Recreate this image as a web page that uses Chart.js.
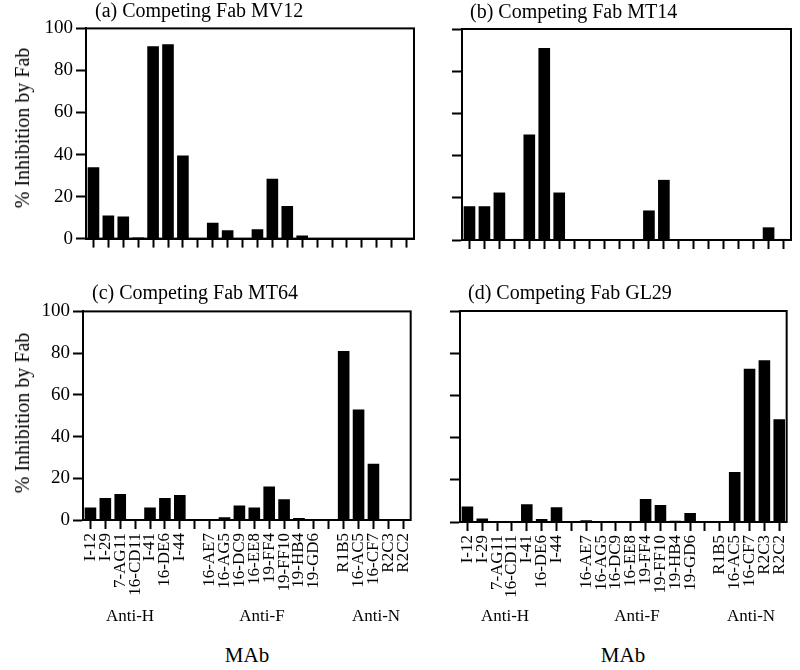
<!DOCTYPE html>
<html lang="en">
<head>
<meta charset="UTF-8">
<title>Competing Fab inhibition</title>
<script src="https://cdn.jsdelivr.net/npm/chart.js"></script>
<style>
  body {
    margin: 0;
    width: 800px;
    height: 670px;
    position: relative;
    overflow: hidden;
    background: #fff;
    color: #000;
    font-family: "Liberation Serif", "Times New Roman", serif;
  }
  .box { position: absolute; }
  .txt { position: absolute; white-space: nowrap; line-height: 1; font-family: "Liberation Serif", "Times New Roman", serif; }
  .title { font-size: 20px; }
  .ytitle { font-size: 20px; transform: translate(-50%, -50%) rotate(-90deg); }
  .group { font-size: 17px; transform: translateX(-50%); }
  .mab { font-size: 21px; transform: translateX(-50%); }
</style>
</head>
<body>
<script>
// monoclonal antibodies on the x axis ('' = empty slot between groups)
const mabLabels = ['I-12', 'I-29', '7-AG11', '16-CD11', 'I-41', '16-DE6', 'I-44', '',
  '16-AE7', '16-AG5', '16-DC9', '16-EE8', '19-FF4', '19-FF10', '19-HB4', '19-GD6', '',
  'R1B5', '16-AC5', '16-CF7', 'R2C3', 'R2C2'];
const groupNames = ['Anti-H', 'Anti-F', 'Anti-N'];

// % inhibition by each competing Fab
const fabMV12 = [34, 11, 10.5, 0.5, 91.5, 92.5, 39.5, 0, 7.5, 4, 0, 4.5, 28.5, 15.5, 1.5, 0, 0, 0, 0, 0, 0, 0];
const fabMT14 = [16, 16, 22.5, 0.5, 50, 91, 22.5, 0, 0, 0, 0, 0, 14, 28.5, 0.3, 0, 0, 0, 0, 0, 6, 0.5];
const fabMT64 = [6, 10.5, 12.5, 0, 6, 10.5, 12, 0, 0, 1.3, 7, 6, 16, 10, 1, 0, 0, 81, 53, 27, 0, 0];
const fabGL29 = [7.4, 1.7, 0, 0, 8.4, 1.4, 7, 0, 0.8, 0, 0, 0, 10.9, 8.1, 0.6, 4.3, 0, 0, 23.7, 72.6, 76.6, 48.7];

const Y_MIN = 0, Y_MAX = 100, Y_STEP = 20;

// layout: plot area [left, top, right, bottom] of each panel
const panels = [
  { title: '(a) Competing Fab MV12', values: fabMV12, area: [86, 28, 414, 239], titlePos: [95, 0], xLabels: false, yLabels: true, yTitleY: 128 },
  { title: '(b) Competing Fab MT14', values: fabMT14, area: [462, 29, 791, 240], titlePos: [470, 1], xLabels: false, yLabels: false },
  { title: '(c) Competing Fab MT64', values: fabMT64, area: [83, 311, 412, 520], titlePos: [92, 282], xLabels: true, yLabels: true, yTitleY: 413 },
  { title: '(d) Competing Fab GL29', values: fabGL29, area: [460, 311, 788, 522], titlePos: [468, 282], xLabels: true, yLabels: false }
];
const groupX = [[130, 262, 376], [505, 637, 751]];
const mabX = [247, 623];

const YW = 80, PT = 14, PR = 16;

Chart.defaults.font.family = '"Liberation Serif", "Times New Roman", serif';
Chart.defaults.color = '#000';

const frame = {
  id: 'frame',
  afterDatasetsDraw(chart) {
    const { ctx, chartArea: a } = chart;
    ctx.save();
    ctx.lineWidth = 2;
    ctx.strokeStyle = '#000';
    ctx.strokeRect(a.left, a.top, a.right - a.left, a.bottom - a.top);
    ctx.restore();
  }
};

function addText(cls, text, x, y) {
  const d = document.createElement('div');
  d.className = 'txt ' + cls;
  d.textContent = text;
  d.style.left = x + 'px';
  d.style.top = y + 'px';
  document.body.appendChild(d);
}

panels.forEach(p => {
  const [l, t, r, b] = p.area;
  const XH = p.xLabels ? 110 : 14;
  const w = r - l + YW + PR;
  const h = b - t + PT + XH;

  const box = document.createElement('div');
  box.className = 'box';
  box.style.left = (l - YW) + 'px';
  box.style.top = (t - PT) + 'px';
  const canvas = document.createElement('canvas');
  canvas.width = w;
  canvas.height = h;
  box.appendChild(canvas);
  document.body.appendChild(box);

  new Chart(canvas, {
    type: 'bar',
    data: {
      labels: mabLabels,
      datasets: [{
        data: p.values,
        backgroundColor: '#000',
        borderWidth: 0,
        categoryPercentage: 1,
        barPercentage: 0.78
      }]
    },
    plugins: [frame],
    options: {
      responsive: false,
      animation: false,
      layout: { padding: { top: PT, right: PR, left: 0, bottom: 0 } },
      plugins: { legend: { display: false }, tooltip: { enabled: false } },
      scales: {
        x: {
          afterFit: s => { s.height = XH; },
          grid: { display: true, drawOnChartArea: false, offset: false, tickLength: 9, tickWidth: 2, tickColor: '#000' },
          border: { display: true, color: '#000', width: 2 },
          ticks: {
            display: p.xLabels,
            autoSkip: false,
            minRotation: 90,
            maxRotation: 90,
            padding: 4,
            color: '#000',
            font: { size: 17 }
          }
        },
        y: {
          min: Y_MIN,
          max: Y_MAX,
          afterFit: s => { s.width = YW; },
          grid: { display: true, drawOnChartArea: false, tickLength: 10, tickWidth: 2, tickColor: '#000' },
          border: { display: true, color: '#000', width: 2 },
          ticks: {
            display: p.yLabels,
            stepSize: Y_STEP,
            padding: 3,
            color: '#000',
            font: { size: 19 }
          }
        }
      }
    }
  });

  addText('title', p.title, p.titlePos[0], p.titlePos[1]);
  if (p.yLabels) addText('ytitle', '% Inhibition by Fab', 22, p.yTitleY);
});

groupX.forEach(row => row.forEach((x, i) => addText('group', groupNames[i], x, 607)));
mabX.forEach(x => addText('mab', 'MAb', x, 645));
</script>
</body>
</html>
